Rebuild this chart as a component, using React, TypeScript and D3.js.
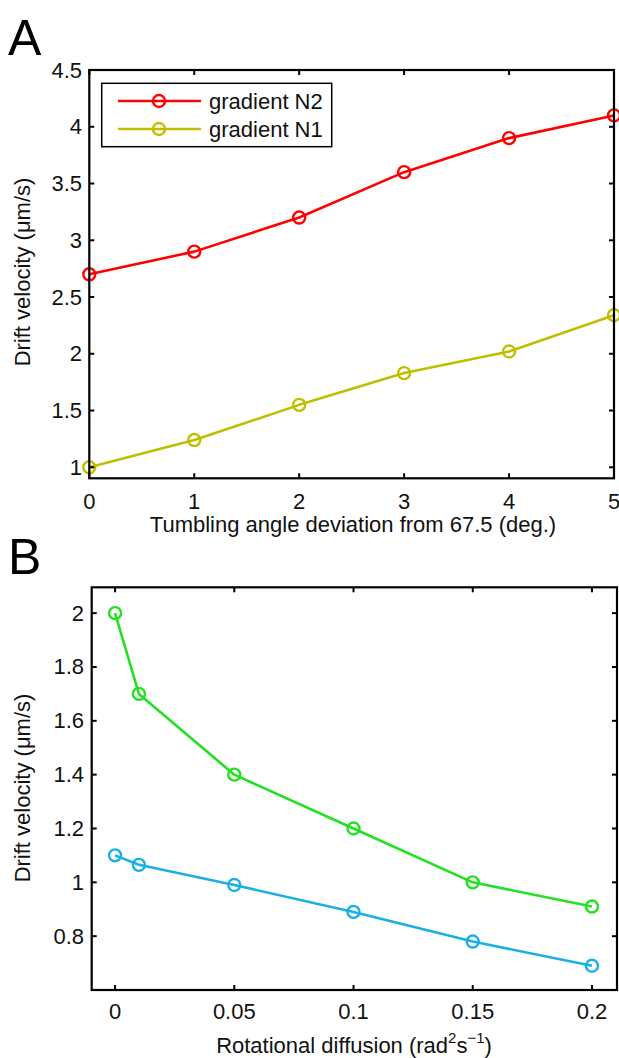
import React from "react";
import * as d3 from "d3";

const anglesA = [0, 1, 2, 3, 4, 5];
const gradientN2 = [2.7, 2.9, 3.2, 3.6, 3.9, 4.1];
const gradientN1 = [1.0, 1.24, 1.55, 1.83, 2.02, 2.34];
const ticksAX = [0, 1, 2, 3, 4, 5];
const ticksAY = [1, 1.5, 2, 2.5, 3, 3.5, 4, 4.5];

const diffB = [0, 0.01, 0.05, 0.1, 0.15, 0.2];
const greenB = [2.0, 1.7, 1.4, 1.2, 1.0, 0.91];
const blueB = [1.1, 1.065, 0.99, 0.89, 0.78, 0.69];
const ticksBX = [0, 0.05, 0.1, 0.15, 0.2];
const ticksBY = [0.8, 1, 1.2, 1.4, 1.6, 1.8, 2];

const FONT = "'Liberation Sans', Arial, Helvetica, sans-serif";
const FS = 22;
const TL = 5;

function Series({ xs, ys, x, y, color }: any) {
  const line = d3
    .line<number>()
    .x((_, i) => x(xs[i]))
    .y((d) => y(d));
  return (
    <g>
      <path d={line(ys) || ""} fill="none" stroke={color} strokeWidth={2.6} strokeLinejoin="round" />
      {ys.map((v: number, i: number) => (
        <circle key={i} cx={x(xs[i])} cy={y(v)} r={6} fill="none" stroke={color} strokeWidth={2.4} />
      ))}
    </g>
  );
}

function Frame({ x, y, xt, yt, fmtX, fmtY, labelX, labelYx }: any) {
  const [x0, x1] = x.range();
  const [y0, y1] = y.range();
  return (
    <g fontFamily={FONT} fontSize={FS} fill="#111">
      {xt.map((t: number, i: number) => (
        <g key={"x" + i}>
          <line x1={x(t)} x2={x(t)} y1={y0} y2={y0 - TL} stroke="#000" strokeWidth={2} />
          <line x1={x(t)} x2={x(t)} y1={y1} y2={y1 + TL} stroke="#000" strokeWidth={2} />
          <text x={x(t)} y={labelX} textAnchor="middle" dominantBaseline="central">
            {fmtX(t)}
          </text>
        </g>
      ))}
      {yt.map((t: number, i: number) => (
        <g key={"y" + i}>
          <line x1={x0} x2={x0 + TL} y1={y(t)} y2={y(t)} stroke="#000" strokeWidth={2} />
          <line x1={x1} x2={x1 - TL} y1={y(t)} y2={y(t)} stroke="#000" strokeWidth={2} />
          <text x={labelYx} y={y(t)} textAnchor="end" dominantBaseline="central">
            {fmtY(t)}
          </text>
        </g>
      ))}
      <rect x={x0} y={y1} width={x1 - x0} height={y0 - y1} fill="none" stroke="#000" strokeWidth={2.2} />
    </g>
  );
}

export default function App() {
  const xA = d3.scaleLinear().domain([0, 5]).range([89.3, 614]);
  const yA = d3.scaleLinear().domain([0.903, 4.5]).range([478.3, 70]);
  const xB = d3.scaleLinear().domain([-0.0098, 0.2105]).range([91.7, 617]);
  const yB = d3.scaleLinear().domain([0.6, 2.096]).range([990, 587.3]);

  const fmt = (t: number) => String(t);

  return (
    <svg
      width={619}
      height={1058}
      style={{ position: "absolute", left: 0, top: 0, background: "#fff" }}
    >
      <rect width={619} height={1058} fill="#fff" />
      <text x={8} y={55} fontFamily={FONT} fontSize={50} fill="#000">A</text>
      <text x={8} y={574} fontFamily={FONT} fontSize={50} fill="#000">B</text>

      {/* Chart A */}
      <Series xs={anglesA} ys={gradientN2} x={xA} y={yA} color="#ff0000" />
      <Series xs={anglesA} ys={gradientN1} x={xA} y={yA} color="#bfbf00" />
      <Frame x={xA} y={yA} xt={ticksAX} yt={ticksAY} fmtX={fmt} fmtY={fmt} labelX={501} labelYx={82} />
      <g fontFamily={FONT} fontSize={FS} fill="#111">
        <rect x={101.7} y={83.3} width={230} height={63.4} fill="#fff" stroke="#000" strokeWidth={1.5} />
        <line x1={118} x2={201} y1={101} y2={101} stroke="#ff0000" strokeWidth={2.6} />
        <circle cx={159} cy={101} r={6} fill="none" stroke="#ff0000" strokeWidth={2.4} />
        <text x={209} y={101} dominantBaseline="central">gradient N2</text>
        <line x1={118} x2={201} y1={129} y2={129} stroke="#bfbf00" strokeWidth={2.6} />
        <circle cx={159} cy={129} r={6} fill="none" stroke="#bfbf00" strokeWidth={2.4} />
        <text x={209} y={129} dominantBaseline="central">gradient N1</text>
        <text x={353} y={524} textAnchor="middle" dominantBaseline="central">
          Tumbling angle deviation from 67.5 (deg.)
        </text>
        <text transform="translate(22,272) rotate(-90)" textAnchor="middle" dominantBaseline="central">
          Drift velocity (μm/s)
        </text>
      </g>

      {/* Chart B */}
      <Series xs={diffB} ys={greenB} x={xB} y={yB} color="#22e022" />
      <Series xs={diffB} ys={blueB} x={xB} y={yB} color="#1ab0e6" />
      <Frame x={xB} y={yB} xt={ticksBX} yt={ticksBY} fmtX={fmt} fmtY={fmt} labelX={1011} labelYx={84} />
      <g fontFamily={FONT} fontSize={FS} fill="#111">
        <text x={354} y={1045} textAnchor="middle" dominantBaseline="central">
          Rotational diffusion (rad
          <tspan dy={-8} fontSize={15}>2</tspan>
          <tspan dy={8}>s</tspan>
          <tspan dy={-8} fontSize={15}>−1</tspan>
          <tspan dy={8}>)</tspan>
        </text>
        <text transform="translate(22,788) rotate(-90)" textAnchor="middle" dominantBaseline="central">
          Drift velocity (μm/s)
        </text>
      </g>
    </svg>
  );
}
